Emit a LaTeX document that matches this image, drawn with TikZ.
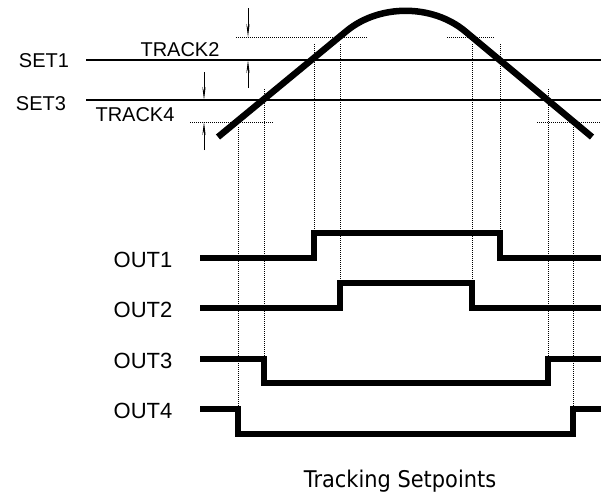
\documentclass[tikz,border=0pt]{standalone}
\usepackage{fontspec}
\setmainfont{Liberation Sans}
\newfontfamily\capfont[FakeStretch=0.91]{DejaVu Sans}
\usetikzlibrary{arrows.meta}

\begin{document}
\begin{tikzpicture}[x=1pt, y=-1pt,
    setlabel/.style={font=\fontsize{20}{20}\selectfont, inner sep=0pt, anchor=base},
    outlabel/.style={font=\fontsize{22}{22}\selectfont, inner sep=0pt, anchor=base},
    level/.style={line width=1.2pt},
    guide/.style={densely dotted, line width=1pt},
    wave/.style={line width=6.5pt, line join=miter},
    dim/.style={line width=0.9pt, -{Stealth[length=13pt, width=3.2pt]}}]

    \useasboundingbox (0,0) rectangle (601,493);

    % setpoint levels
    \draw [level] (86,60) -- (601,60);
    \draw [level] (86,100) -- (601,100);

    % tracking offsets
    \draw [guide] (236,37) -- (368,37);
    \draw [guide] (447,37) -- (495,37);
    \draw [guide] (190,122) -- (273,122);
    \draw [guide] (537,122) -- (600,122);

    % switching instants
    \foreach \x/\ytop/\ybot in {314/44/233, 340/44/283, 472/44/283, 500/44/233,
                                264/89/359, 548/89/359, 238/127/409, 573/127/409}
        \draw [guide] (\x,\ytop) -- (\x,\ybot);

    % process value
    \draw [wave, rounded corners=77pt] (218,137) -- (406,-18) -- (592,137);

    % track widths
    \draw [dim] (248,8) -- (248,37);
    \draw [dim] (248,88) -- (248,60);
    \draw [dim] (204,72) -- (204,100);
    \draw [dim] (204,150) -- (204,122);

    \node [setlabel] (set1) at (44,67) {SET1};
    \node [setlabel] (set3) at (41,110) {SET3};
    \node [setlabel] (track2) at (180,56) {TRACK2};
    \node [setlabel] (track4) at (135,121) {TRACK4};

    % outputs
    \draw [wave] (200,258) -- (314,258) -- (314,233) -- (500,233) -- (500,258) -- (601,258);
    \draw [wave] (200,308) -- (340,308) -- (340,283) -- (472,283) -- (472,308) -- (601,308);
    \draw [wave] (200,359) -- (264,359) -- (264,383) -- (548,383) -- (548,359) -- (601,359);
    \draw [wave] (200,409) -- (238,409) -- (238,434) -- (573,434) -- (573,409) -- (601,409);

    \node [outlabel] (out1) at (143,267) {OUT1};
    \node [outlabel] (out2) at (143,317) {OUT2};
    \node [outlabel] (out3) at (143,368) {OUT3};
    \node [outlabel] (out4) at (143,418) {OUT4};

    \node [inner sep=0pt, anchor=base, font=\capfont\fontsize{23}{23}\selectfont] (caption) at (400,487) {Tracking Setpoints};
\end{tikzpicture}
\end{document}
